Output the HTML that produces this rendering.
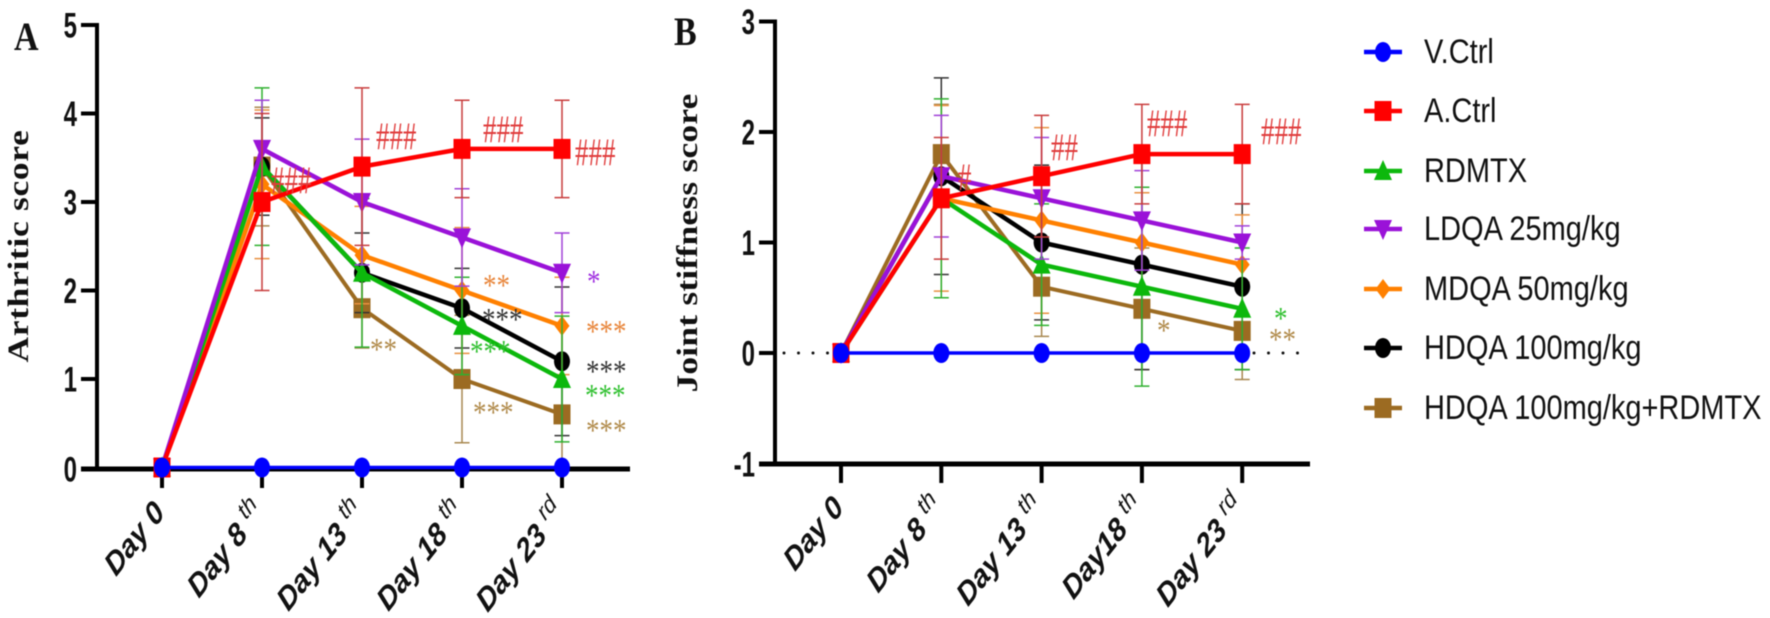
<!DOCTYPE html>
<html lang="en">
<head>
<meta charset="utf-8">
<title>Arthritic and joint stiffness scores</title>
<style>
html,body{margin:0;padding:0;background:#fff;width:1770px;height:618px;overflow:hidden}
svg{display:block;filter:blur(0.4px)}
.hash{font-family:"Liberation Serif",serif;font-size:27px}
.star{font-family:"Liberation Serif",serif;font-size:27px}
.ptl{font-family:"Liberation Serif",serif;font-weight:bold;font-size:34px;fill:#111}
.ytitle{font-family:"Liberation Serif",serif;font-weight:bold;font-size:30px;fill:#111}
</style>
</head>
<body>
<svg id="fig" xmlns="http://www.w3.org/2000/svg" width="1770" height="618" viewBox="0 0 1770 618">
  <text class="ptl" transform="translate(14,50) scale(1,1.18)">A</text>
  <text class="ptl" transform="translate(674,45) scale(1,1.18)">B</text>
  <text class="ytitle" text-anchor="middle" letter-spacing="0.6" transform="translate(28,246) scale(1,1.18) rotate(-90)">Arthritic score</text>
  <text class="ytitle" text-anchor="middle" letter-spacing="0.2" transform="translate(697,243) scale(1,1.18) rotate(-90)">Joint stiffness score</text>
  <g id="panelA"></g>
  <g id="panelB"></g>
  <g id="legend"></g>
  <g>
    <text class="hash" fill="#e03c3c" transform="translate(271,193) scale(1,1.45)">###</text>
    <text class="hash" fill="#e03c3c" transform="translate(376,149) scale(1,1.45)">###</text>
    <text class="hash" fill="#e03c3c" transform="translate(483,142) scale(1,1.45)">###</text>
    <text class="hash" fill="#e03c3c" transform="translate(575,165) scale(1,1.45)">###</text>
    <text class="star" fill="#e8853a" transform="translate(483,296) scale(1,1.18)">**</text>
    <text class="star" fill="#333333" transform="translate(482,330) scale(1,1.18)">***</text>
    <text class="star" fill="#2fc02f" transform="translate(470,362) scale(1,1.18)">***</text>
    <text class="star" fill="#b08a4a" transform="translate(370,360) scale(1,1.18)">**</text>
    <text class="star" fill="#b08a4a" transform="translate(473,423) scale(1,1.18)">***</text>
    <text class="star" fill="#a030e0" transform="translate(587,292) scale(1,1.18)">*</text>
    <text class="star" fill="#e8853a" transform="translate(586,342) scale(1,1.18)">***</text>
    <text class="star" fill="#333333" transform="translate(586,382) scale(1,1.18)">***</text>
    <text class="star" fill="#2fc02f" transform="translate(585,406) scale(1,1.18)">***</text>
    <text class="star" fill="#b08a4a" transform="translate(586,441) scale(1,1.18)">***</text>
  </g>
  <g>
    <text class="hash" fill="#e03c3c" transform="translate(958,190) scale(1,1.45)">#</text>
    <text class="hash" fill="#e03c3c" transform="translate(1051,160) scale(1,1.45)">##</text>
    <text class="hash" fill="#e03c3c" transform="translate(1147,136) scale(1,1.45)">###</text>
    <text class="hash" fill="#e03c3c" transform="translate(1261,144) scale(1,1.45)">###</text>
    <text class="star" fill="#b08a4a" transform="translate(1157,341) scale(1,1.18)">*</text>
    <text class="star" fill="#2fc02f" transform="translate(1274,329) scale(1,1.18)">*</text>
    <text class="star" fill="#b08a4a" transform="translate(1269,350) scale(1,1.18)">**</text>
  </g>
</svg>
<script>
// ---- shared categories ----
const labelsA = [["Day 0",""],["Day 8 ","th"],["Day 13 ","th"],["Day 18 ","th"],["Day 23 ","rd"]];
const labelsB = [["Day 0",""],["Day 8 ","th"],["Day 13 ","th"],["Day18 ","th"],["Day 23 ","rd"]];
const ticksA = [0,1,2,3,4,5];
const ticksB = [-1,0,1,2,3];
const seriesNames = ["V.Ctrl","A.Ctrl","RDMTX","LDQA 25mg/kg","MDQA 50mg/kg","HDQA 100mg/kg","HDQA 100mg/kg+RDMTX"];

// ---- panel A values: arthritic score ----
const aVCtrl  = [0,0,0,0,0];
const aACtrl  = [0,3,3.4,3.6,3.6];
const aRdmtx  = [0,3.4,2.2,1.6,1.0];
const aLdqa   = [0,3.6,3,2.6,2.2];
const aMdqa   = [0,3.2,2.4,2,1.6];
const aHdqa   = [0,3.4,2.2,1.8,1.2];
const aCombo  = [0,3.4,1.8,1,0.6];
// ---- panel A error bars ----
const aVCtrlErr = [0,0,0,0,0];
const aACtrlErr = [0,1,0.89,0.55,0.55];
const aRdmtxErr = [0,0.89,0.84,0.55,0.71];
const aLdqaErr  = [0,0.55,0.71,0.55,0.45];
const aMdqaErr  = [0,0.84,0.55,0.71,0.55];
const aHdqaErr  = [0,0.55,0.45,0.45,0.84];
const aComboErr = [0,0.67,0.45,0.72,0.6];

// ---- panel B values: joint stiffness score ----
const bVCtrl  = [0,0,0,0,0];
const bACtrl  = [0,1.4,1.6,1.8,1.8];
const bRdmtx  = [0,1.4,0.8,0.6,0.4];
const bLdqa   = [0,1.6,1.4,1.2,1.0];
const bMdqa   = [0,1.4,1.2,1,0.8];
const bHdqa   = [0,1.6,1,0.8,0.6];
const bCombo  = [0,1.8,0.6,0.4,0.2];
// ---- panel B error bars ----
const bVCtrlErr = [0,0,0,0,0];
const bACtrlErr = [0,0.55,0.55,0.45,0.45];
const bRdmtxErr = [0,0.9,0.55,0.9,0.55];
const bLdqaErr  = [0,0.55,0.55,0.45,0.15];
const bMdqaErr  = [0,0.84,0.84,0.45,0.45];
const bHdqaErr  = [0,0.89,0.7,0.95,0.75];
const bComboErr = [0,0.45,0.45,0.55,0.44];

const NS = "http://www.w3.org/2000/svg";
const styleBySeries = {
  "V.Ctrl":{color:"#0000ff",err:"#3030e0",mark:"circle",w:3.5},
  "A.Ctrl":{color:"#ff0000",err:"#c83c3c",mark:"square",w:4.5},
  "RDMTX":{color:"#0cb80c",err:"#2fb02f",mark:"up",w:4.5},
  "LDQA 25mg/kg":{color:"#9a12d8",err:"#a040d8",mark:"down",w:4.5},
  "MDQA 50mg/kg":{color:"#ff8000",err:"#e89040",mark:"diamond",w:4.5},
  "HDQA 100mg/kg":{color:"#000000",err:"#333333",mark:"circle",w:4.5},
  "HDQA 100mg/kg+RDMTX":{color:"#9c6b22",err:"#a88850",mark:"square",w:4}
};

function el(tag, attrs, parent){
  const e = document.createElementNS(NS, tag);
  for (const k in attrs) e.setAttribute(k, attrs[k]);
  parent.appendChild(e);
  return e;
}
function slug(s){ return s.toLowerCase().replace(/[^a-z0-9]+/g,'-'); }

function drawMarker(g, kind, cx, cy, color){
  let m;
  if (kind === "circle") {
    m = el("ellipse",{cx:cx,cy:cy,rx:8,ry:10,fill:color},g);
  } else if (kind === "square") {
    m = el("rect",{x:cx-8.5,y:cy-10,width:17,height:20,fill:color},g);
  } else if (kind === "up") {
    m = el("polygon",{points:(cx-9)+","+(cy+9)+" "+(cx+9)+","+(cy+9)+" "+cx+","+(cy-11),fill:color},g);
  } else if (kind === "down") {
    m = el("polygon",{points:(cx-9)+","+(cy-9)+" "+(cx+9)+","+(cy-9)+" "+cx+","+(cy+11),fill:color},g);
  } else {
    m = el("polygon",{points:(cx-7.5)+","+cy+" "+cx+","+(cy-10)+" "+(cx+7.5)+","+cy+" "+cx+","+(cy+10),fill:color},g);
  }
  return m;
}

function drawPanel(cfg){
  const g = document.getElementById(cfg.id);
  const px = function(i){ return cfg.x0 + i * cfg.dx; };
  const py = function(v){ return cfg.yZero - v * cfg.unit; };

  // dotted zero reference
  if (cfg.dots) {
    cfg.dots.forEach(function(seg){
      const d = el("line",{x1:seg[0],x2:seg[1],y1:py(0),y2:py(0),stroke:"#111","stroke-width":3,"stroke-linecap":"round","stroke-dasharray":"0 14.5"},g);
      
      
    });
  }

  // axes
  const yAxis = el("line",{x1:cfg.axisX,x2:cfg.axisX,y1:py(cfg.ticks[cfg.ticks.length-1])-2,y2:cfg.xAxisY+2,stroke:"#000","stroke-width":4},g);
  
  
  const xAxis = el("line",{x1:cfg.axisX-16,x2:cfg.xEnd,y1:cfg.xAxisY,y2:cfg.xAxisY,stroke:"#000","stroke-width":5},g);
  
  

  cfg.ticks.forEach(function(t){
    const yy = t === cfg.ticks[0] ? cfg.xAxisY : py(t);
    const tk = el("line",{x1:cfg.axisX-16,x2:cfg.axisX,y1:yy,y2:yy,stroke:"#000","stroke-width":4},g);
    
    
    const tx = el("text",{"text-anchor":"end",fill:"#111","font-family":"Liberation Sans, sans-serif","font-weight":"bold","font-size":30,transform:"translate("+(cfg.axisX-20)+","+(yy+12.5)+") scale(0.8,1.18)"},g);
    tx.textContent = String(t);
    
    
  });

  cfg.labels.forEach(function(lab,i){
    const tk = el("line",{x1:px(i),x2:px(i),y1:cfg.xAxisY,y2:cfg.xAxisY+19,stroke:"#000","stroke-width":4},g);
    
    
    const tx = el("text",{"text-anchor":"end",fill:"#111","font-family":"Liberation Sans, sans-serif","font-style":"italic","font-size":27.5,transform:"translate("+(px(i)+4)+","+cfg.labelY+") scale(1,1.18) rotate(-47)"},g);
    
    
    const main = el("tspan",{"font-weight":"bold"},tx);
    main.textContent = lab[0];
    if (lab[1]) {
      const sup = el("tspan",{"font-size":21,dy:-11,"font-weight":"normal"},tx);
      sup.textContent = lab[1];
    }
  });

  // series: back to front
  cfg.order.forEach(function(s){
    const st = styleBySeries[s.name];
    const sg = el("g",{},g);
    
    
    s.values.forEach(function(v,i){
      const e = s.err[i];
      if (!e) return;
      const x = px(i), up = py(v+e), lo = py(v-e);
      const eb = el("path",{d:"M"+x+" "+up+"V"+lo+"M"+(x-7.5)+" "+up+"H"+(x+7.5)+"M"+(x-7.5)+" "+lo+"H"+(x+7.5),fill:"none",stroke:st.err,"stroke-width":1.5},sg);
      
      
    });
    const pts = s.values.map(function(v,i){ return px(i)+","+py(v); }).join(" ");
    const ln = el("polyline",{points:pts,fill:"none",stroke:st.color,"stroke-width":st.w,"stroke-linejoin":"round"},sg);
    
    
    s.values.forEach(function(v,i){
      const mk = drawMarker(sg, st.mark, px(i), py(v), st.color);
      
      
    });
  });
}

drawPanel({
  id:"panelA", x0:162, dx:100, yZero:467.5, unit:88.5, axisX:97, xAxisY:469, xEnd:630,
  ticks:ticksA, labels:labelsA, labelY:514,
  order:[
    {name:seriesNames[6],values:aCombo,err:aComboErr},
    {name:seriesNames[5],values:aHdqa,err:aHdqaErr},
    {name:seriesNames[4],values:aMdqa,err:aMdqaErr},
    {name:seriesNames[2],values:aRdmtx,err:aRdmtxErr},
    {name:seriesNames[3],values:aLdqa,err:aLdqaErr},
    {name:seriesNames[1],values:aACtrl,err:aACtrlErr},
    {name:seriesNames[0],values:aVCtrl,err:aVCtrlErr}
  ]
});

drawPanel({
  id:"panelB", x0:841, dx:100.3, yZero:353, unit:110.5, axisX:775, xAxisY:464, xEnd:1310,
  ticks:ticksB, labels:labelsB, labelY:509, dots:[[784,840],[1254,1302]],
  order:[
    {name:seriesNames[6],values:bCombo,err:bComboErr},
    {name:seriesNames[5],values:bHdqa,err:bHdqaErr},
    {name:seriesNames[4],values:bMdqa,err:bMdqaErr},
    {name:seriesNames[2],values:bRdmtx,err:bRdmtxErr},
    {name:seriesNames[3],values:bLdqa,err:bLdqaErr},
    {name:seriesNames[1],values:bACtrl,err:bACtrlErr},
    {name:seriesNames[0],values:bVCtrl,err:bVCtrlErr}
  ]
});

// legend
const legendRows = [52,111,171,229,289,348,408];
(function(){
  const g = document.getElementById("legend");
  seriesNames.forEach(function(n,i){
    const st = styleBySeries[n];
    const row = el("g",{},g);
    
    
    const y = legendRows[i];
    el("line",{x1:1364,x2:1402,y1:y,y2:y,stroke:st.color,"stroke-width":4.5},row);
    drawMarker(row, st.mark, 1383, y, st.color);
    const t = el("text",{fill:"#111","font-family":"Liberation Sans, sans-serif","font-size":29,transform:"translate(1424,"+(y+11)+") scale(1,1.18)"},row);
    t.textContent = n;
  });
})();
</script>
</body>
</html>
